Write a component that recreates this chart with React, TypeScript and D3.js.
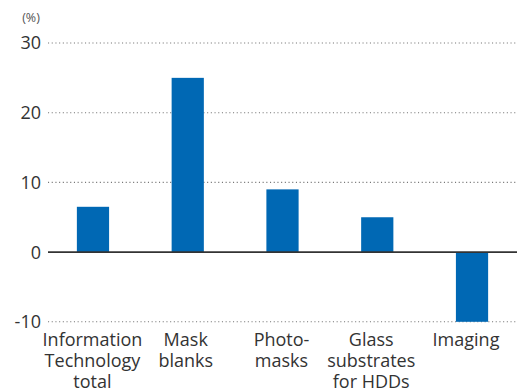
import React from "react";
import * as d3 from "d3";

const categories = ["Information Technology total", "Mask blanks", "Photomasks", "Glass substrates for HDDs", "Imaging"];
const labelLines = [["Information", "Technology", "total"], ["Mask", "blanks"], ["Photo-", "masks"], ["Glass", "substrates", "for HDDs"], ["Imaging"]];
const values = [6.5, 25, 9, 5, -10];
const yTicks = [30, 20, 10, 0, -10];

const W = 517, H = 388;
const font = "'Open Sans', 'Noto Sans', sans-serif";
const labelShift = [-0.5, -2, -1, -6, -6];

export default function App() {
  const x = d3.scaleBand<string>().domain(categories).range([45.6, 519.4]).paddingInner(0.66).paddingOuter(0.33);
  const y = d3.scaleLinear().domain([-10, 30]).range([321.8, 43]);
  return (
    <svg width={W} height={H} style={{ position: "absolute", left: 0, top: 0, background: "#fff" }}>
      <text x={31} y={22} fontFamily={font} fontSize={12.5} fill="#555" textAnchor="middle">(%)</text>
      {yTicks.map((t) => (
        <g key={t}>
          {t !== 0 && (
            <line x1={48} x2={W} y1={y(t)} y2={y(t)} stroke="#777" strokeWidth={1.1} strokeDasharray="1.1 2.6" />
          )}
          <text x={41} y={y(t)} dy="0.36em" textAnchor="end" fontFamily={font} fontSize={18} fill="#333">{t}</text>
        </g>
      ))}
      {categories.map((c, i) => {
        const v = values[i];
        return (
          <rect key={c} x={x(c)} width={x.bandwidth()} y={y(Math.max(0, v))} height={Math.abs(y(v) - y(0))} fill="#0068B4" />
        );
      })}
      <line x1={48} x2={W} y1={y(0)} y2={y(0)} stroke="#333" strokeWidth={1.6} />
      {categories.map((c, i) => (
        <text key={c} textAnchor="middle" fontFamily={font} fontSize={18} fill="#333">
          {labelLines[i].map((l, j) => (
            <tspan key={j} x={(x(c) as number) + x.bandwidth() / 2 + labelShift[i]} y={346 + j * 21}>{l}</tspan>
          ))}
        </text>
      ))}
    </svg>
  );
}
